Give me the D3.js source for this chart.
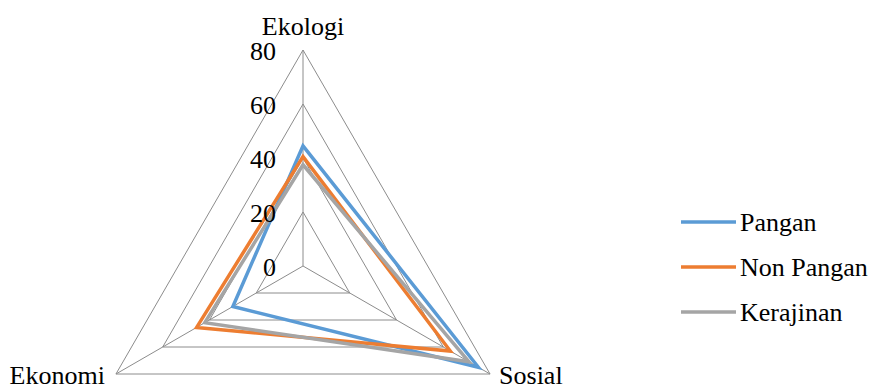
<!DOCTYPE html>
<html>
<head>
<meta charset="utf-8">
<script src="https://cdn.jsdelivr.net/npm/d3@7"></script>
<style>
  html, body { margin: 0; padding: 0; background: #fff; }
  svg { display: block; }
</style>
</head>
<body>
<svg id="chart" width="873" height="389"></svg>
<script>
// Axes of the radar, clockwise from the top
const axes = ["Ekologi", "Sosial", "Ekonomi"];
// Scores per series, in the order of `axes`
const pangan    = [44.5, 75, 30];
const nonPangan = [40.5, 63, 45.5];
const kerajinan = [37.5, 71, 42];
const seriesNames = ["Pangan", "Non Pangan", "Kerajinan"];
const seriesColors = ["#5B9BD5", "#ED7D31", "#A5A5A5"];
const tickValues = [0, 20, 40, 60, 80];

const svg = d3.select("#chart");
const cx = 303, cy = 266, R = 216;
const FONT = '"Liberation Serif", "Times New Roman", serif';

const r = d3.scaleLinear().domain([0, 80]).range([0, R]);
const angle = d3.scalePoint().domain(axes.concat(["_end"])).range([0, 2 * Math.PI]);

function pt(axis, v) {
  const a = angle(axis);
  return [cx + r(v) * Math.sin(a), cy - r(v) * Math.cos(a)];
}

function label(x, y, str, anchor) {
  svg.append("text")
    .attr("x", x).attr("y", y)
    .attr("text-anchor", anchor)
    .style("font-family", FONT)
    .style("font-size", "26px")
    .style("fill", "#000")
    .text(str);
}

// Grid triangles
const grid = svg.append("g").attr("fill", "none").attr("stroke", "#8c8c8c").attr("stroke-width", 1);
tickValues.filter(t => t > 0).forEach(t => {
  grid.append("path")
    .attr("d", d3.line()(axes.map(a => pt(a, t))) + "Z");
});
// Spokes
axes.forEach(a => {
  const p = pt(a, 80);
  grid.append("line").attr("x1", cx).attr("y1", cy).attr("x2", p[0]).attr("y2", p[1]);
});

// Series polygons
const seriesData = [pangan, nonPangan, kerajinan];
const lineGen = d3.line();
seriesData.forEach((vals, i) => {
  svg.append("path")
    .attr("d", lineGen(axes.map((a, j) => pt(a, vals[j]))) + "Z")
    .attr("fill", "none")
    .attr("stroke", seriesColors[i])
    .attr("stroke-width", 3.5)
    .attr("stroke-linejoin", "miter");
});

// Tick labels along the top spoke
tickValues.forEach(t => {
  label(cx - 27, cy - r(t) + 9.5, String(t), "end");
});

// Axis labels
label(cx, 35, "Ekologi", "middle");
label(pt("Ekonomi", 80)[0] - 11, 384, "Ekonomi", "end");
label(pt("Sosial", 80)[0] + 9, 384, "Sosial", "start");

// Legend
const legendY = [222, 267, 312];
seriesNames.forEach((name, i) => {
  svg.append("line")
    .attr("x1", 681).attr("x2", 736)
    .attr("y1", legendY[i]).attr("y2", legendY[i])
    .attr("stroke", seriesColors[i]).attr("stroke-width", 3.5);
  label(740, legendY[i] + 9, name, "start");
});
</script>
</body>
</html>
